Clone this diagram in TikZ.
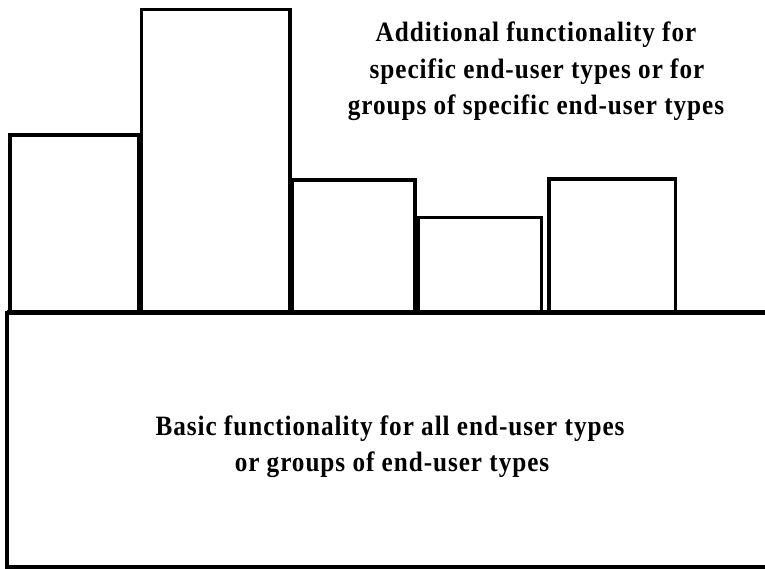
\documentclass[tikz,border=0pt]{standalone}
\usepackage{fontspec}
\newfontfamily\lblfont{Liberation Serif}[FakeStretch=0.9,LetterSpace=3.4]
\begin{document}
\begin{tikzpicture}[x=1pt,y=-1pt,
  boxline/.style={line width=3.5pt,line join=miter},
  baseline line/.style={line width=5pt},
  lbl/.style={inner sep=0pt,anchor=base,font=\lblfont\bfseries\fontsize{28}{36}\selectfont}]
\useasboundingbox (0,0) rectangle (765,569);
% upper boxes
\draw[boxline] (10,310) -- (10,135) -- (138.5,135) -- (138.5,310);
\draw[boxline] (141.5,310) -- (141.5,9.5) -- (290,9.5) -- (290,310);
\draw[boxline] (292,310) -- (292,180) -- (415,180) -- (415,310);
\draw[boxline] (418,310) -- (418,217.5) -- (541.5,217.5) -- (541.5,310);
\draw[boxline] (549,310) -- (549,179) -- (675.5,179) -- (675.5,310);
% base box (open on the right)
\draw[baseline line] (765,312.5) -- (7,312.5);
\draw[line width=4pt] (7,310.5) -- (7,566.5) -- (765,566.5);
% texts
\node[lbl] (a1) at (536,42) {Additional functionality for};
\node[lbl] (a2) at (537,79) {specific end-user types or for};
\node[lbl] (a3) at (536,115) {groups of specific end-user types};
\node[lbl] (b1) at (390,435) {Basic functionality for all end-user types};
\node[lbl] (b2) at (392,471) {or groups of end-user types};
\end{tikzpicture}
\end{document}
